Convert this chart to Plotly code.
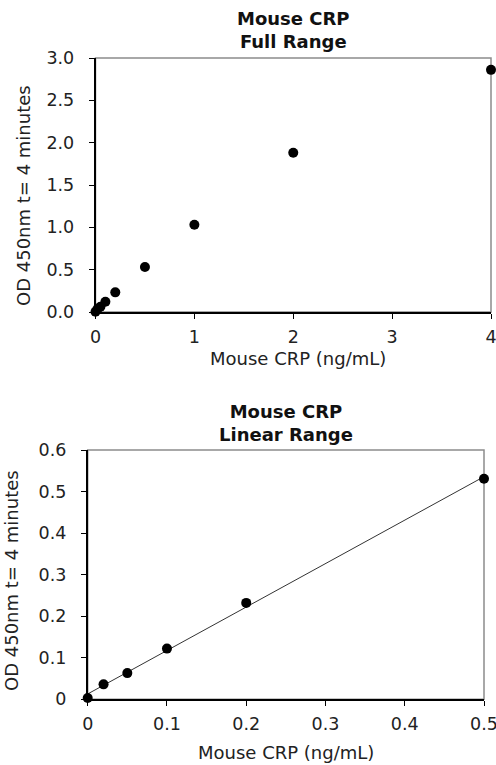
import numpy as np
import plotly.graph_objects as go

# ---- data ----
full_conc = [0, 0.02, 0.05, 0.1, 0.2, 0.5, 1, 2, 4]
full_od = [0.003, 0.036, 0.063, 0.122, 0.232, 0.531, 1.03, 1.88, 2.86]
linear_conc = [0, 0.02, 0.05, 0.1, 0.2, 0.5]
linear_od = [0.003, 0.036, 0.063, 0.122, 0.232, 0.531]

full_xticks = [0, 1, 2, 3, 4]
full_yticks = [0.0, 0.5, 1.0, 1.5, 2.0, 2.5, 3.0]
linear_xticks = [0, 0.1, 0.2, 0.3, 0.4, 0.5]
linear_yticks = [0, 0.1, 0.2, 0.3, 0.4, 0.5, 0.6]

title_top = "<b>Mouse CRP</b><br><b>Full Range</b>"
title_bot = "<b>Mouse CRP</b><br><b>Linear Range</b>"
x_title = "Mouse CRP (ng/mL)"
y_title = "OD 450nm t= 4 minutes"

# linear trend line (least squares)
slope, intercept = np.polyfit(linear_conc, linear_od, 1)
trend_x = [0, 0.5]
trend_y = [intercept + slope * v for v in trend_x]

W, H = 496, 765
FONT = "DejaVu Sans, Arial, sans-serif"
TICK = 17.5
LAB = 18


def px(x):
    return x / W


def py(y):
    return (H - y) / H


fig = go.Figure()
fig.add_trace(go.Scatter(x=full_conc, y=full_od, mode="markers",
                         marker=dict(color="black", size=10),
                         cliponaxis=False, xaxis="x", yaxis="y", showlegend=False))
fig.add_trace(go.Scatter(x=trend_x, y=trend_y, mode="lines",
                         line=dict(color="#333333", width=1),
                         cliponaxis=False, xaxis="x2", yaxis="y2", showlegend=False))
fig.add_trace(go.Scatter(x=linear_conc, y=linear_od, mode="markers",
                         marker=dict(color="black", size=10),
                         cliponaxis=False, xaxis="x2", yaxis="y2", showlegend=False))

top_dom_x = [px(95.5), px(491)]
top_dom_y = [py(312), py(58)]
bot_dom_x = [px(87.7), px(484)]
bot_dom_y = [py(699.3), py(450)]

axis_common = dict(showgrid=False, zeroline=False, showline=True, linecolor="black",
                   linewidth=1.5, ticks="outside", ticklen=5, tickwidth=1.2,
                   tickcolor="black", automargin=False, ticklabeloverflow="allow",
                   tickfont=dict(family=FONT, size=TICK, color="#222"))

fig.update_layout(
    width=W, height=H,
    margin=dict(l=0, r=0, t=0, b=0, autoexpand=False),
    paper_bgcolor="white", plot_bgcolor="white",
    xaxis=dict(domain=top_dom_x, range=[0, 4], tickvals=full_xticks,
               ticktext=[str(v) for v in full_xticks], anchor="y",
               ticklabelstandoff=3, **axis_common),
    yaxis=dict(domain=top_dom_y, range=[0, 3], tickvals=full_yticks,
               ticktext=[f"{v:.1f}" for v in full_yticks], anchor="x",
               ticklabelstandoff=11, **axis_common),
    xaxis2=dict(domain=bot_dom_x, range=[0, 0.5], tickvals=linear_xticks,
                ticktext=[f"{v:g}" for v in linear_xticks], anchor="y2",
                ticklabelstandoff=3, **axis_common),
    yaxis2=dict(domain=bot_dom_y, range=[0, 0.6], tickvals=linear_yticks,
                ticktext=[f"{v:g}" for v in linear_yticks], anchor="x2",
                ticklabelstandoff=11, **axis_common),
)

# gray plot-area borders
for xr, yr in (("x domain", "y domain"), ("x2 domain", "y2 domain")):
    fig.add_shape(type="rect", xref=xr, yref=yr, x0=0, x1=1, y0=0, y1=1,
                  line=dict(color="#8c8c8c", width=1.5), layer="below")


def note(text, x, y, color="#222", angle=0):
    return dict(text=text, x=px(x), y=py(y), xref="paper", yref="paper",
                xanchor="center", yanchor="middle", textangle=angle,
                showarrow=False, font=dict(family=FONT, size=LAB, color=color))


ann = [
    note(title_top, 293, 30, "#111"),
    note(title_bot, 286, 423, "#111"),
    note(x_title, 298, 358),
    note(x_title, 286, 752),
    note(y_title, 24, 196, angle=-90),
    note(y_title, 11, 581, angle=-90),
]
fig.update_layout(annotations=ann)

fig.write_html("out.html", config={"displayModeBar": False},
               post_script="document.body.style.margin='0';"
                           "document.body.style.overflow='hidden';")
